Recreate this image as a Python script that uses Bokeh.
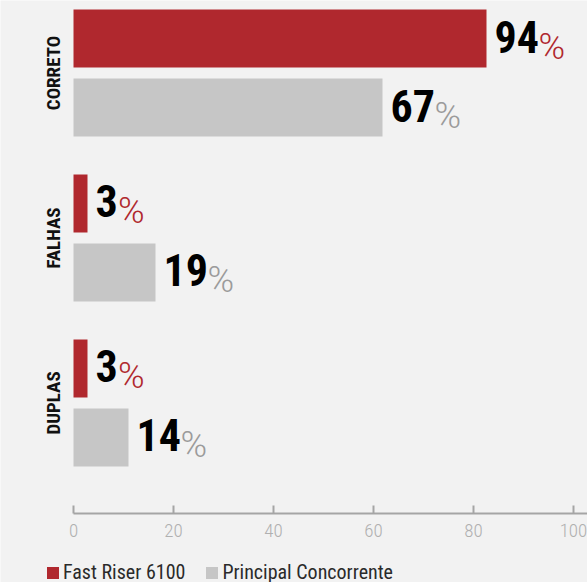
import math
from bokeh.plotting import figure
from bokeh.models import ColumnDataSource, Range1d, FixedTicker, Legend, LegendItem
from bokeh.core.properties import value
from bokeh.embed import file_html
from bokeh.resources import INLINE

# ---- data ----
categories = ["CORRETO", "FALHAS", "DUPLAS"]
series = ["Fast Riser 6100", "Principal Concorrente"]
fast_bar = [82.6, 2.8, 2.8]        # bar lengths
rival_bar = [61.8, 16.4, 11.0]
fast_label = [94, 3, 3]            # printed labels
rival_label = [67, 19, 14]
x_ticks = [0, 20, 40, 60, 80, 100]

# ---- style ----
RED = "#b0282e"
GREY = "#c6c6c6"
BG = "#f2f2f2"
FONT = "Roboto Condensed, DejaVu Sans Condensed, Roboto"
FONT_LIGHT = "Roboto Condensed Light, Roboto Condensed, DejaVu Sans Condensed, Roboto"
FONT_PCT = "Roboto Light, Roboto"
GROUP_GAP = 0.391
BAR_H = 0.84
DIGIT_W = 21.5
CAT_LABEL_X = -4.1
AXIS_Y = -6.884


def center(i, j):
    return round(-(i * (2 + GROUP_GAP) + j), 4)


fast_y = [center(i, 0) for i in range(len(categories))]
rival_y = [center(i, 1) for i in range(len(categories))]
group_y = [round(-(i * (2 + GROUP_GAP) + 0.5), 4) for i in range(len(categories))]

src_fast = ColumnDataSource(dict(
    y=fast_y, v=fast_bar, txt=[str(v) for v in fast_label],
    pct=["%"] * 3, poff=[8 + DIGIT_W * len(str(v)) + 1 for v in fast_label]))
src_rival = ColumnDataSource(dict(
    y=rival_y, v=rival_bar, txt=[str(v) for v in rival_label],
    pct=["%"] * 3, poff=[8 + DIGIT_W * len(str(v)) + 1 for v in rival_label]))
src_cat = ColumnDataSource(dict(y=group_y, name=categories,
                                x=[CAT_LABEL_X] * len(categories)))

p = figure(width=587, height=582, output_backend="svg", toolbar_location=None,
           x_range=Range1d(-14.6, 102.8),
           y_range=Range1d(-7.884, 0.551),
           min_border_left=0, min_border_right=0, min_border_top=0,
           min_border_bottom=0)
p.background_fill_color = BG
p.border_fill_color = BG
p.outline_line_color = None
p.grid.visible = False
p.yaxis.visible = False

r_fast = p.hbar(y="y", right="v", left=0, height=BAR_H, fill_color=RED,
                line_color=None, source=src_fast)
r_rival = p.hbar(y="y", right="v", left=0, height=BAR_H, fill_color=GREY,
                 line_color=None, source=src_rival)

for src, pc in ((src_fast, RED), (src_rival, "#9b9b9b")):
    p.text(x="v", y="y", text="txt", x_offset=8, y_offset=-2,
           text_font=value(FONT), text_font_style="bold",
           text_font_size="44px", text_color="#000000",
           text_align="left", text_baseline="alphabetic", source=src)
    p.text(x="v", y="y", text="pct", x_offset="poff", y_offset=8,
           text_font=value(FONT_PCT), text_font_size="36px", text_color=pc,
           text_align="left", text_baseline="alphabetic", source=src)

# category labels (rotated)
p.text(x="x", y="y", text="name", angle=math.pi / 2,
       text_font=value(FONT), text_font_style="bold", text_font_size="19px",
       text_color="#111111", text_align="center", text_baseline="middle",
       source=src_cat)

# x axis
xa = p.xaxis[0]
xa.fixed_location = AXIS_Y
xa.ticker = FixedTicker(ticks=x_ticks)
xa.bounds = (0, 102.8)
xa.axis_line_color = "#a5a5a5"
xa.axis_line_width = 2
xa.major_tick_line_color = "#a5a5a5"
xa.major_tick_line_width = 2
xa.major_tick_in = 8
xa.major_tick_out = 0
xa.minor_tick_line_color = None
xa.major_label_standoff = 10
xa.major_label_text_font = FONT_LIGHT
xa.major_label_text_font_size = "19px"
xa.major_label_text_color = "#b0b0b0"

legend = Legend(items=[LegendItem(label=series[0], renderers=[r_fast]),
                       LegendItem(label=series[1], renderers=[r_rival])],
                orientation="horizontal", location=(45, -2),
                padding=0, margin=0, spacing=19, label_standoff=3,
                glyph_width=15, glyph_height=15,
                border_line_color=None, background_fill_alpha=0,
                label_text_font=FONT, label_text_font_size="20px",
                label_text_color="#2a2a2a")
p.add_layout(legend, "center")

open("out.html", "w").write(file_html(p, INLINE))
